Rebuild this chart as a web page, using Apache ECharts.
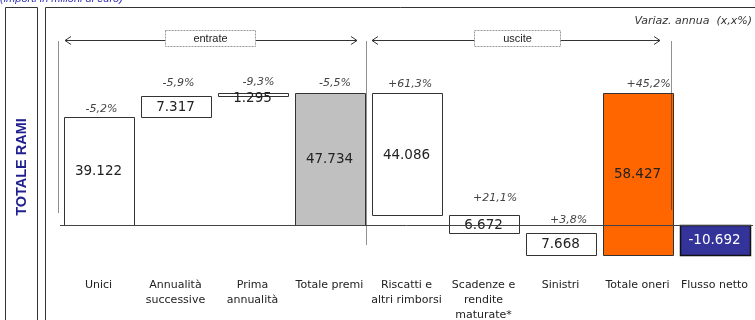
<!DOCTYPE html>
<html>
<head>
<meta charset="utf-8">
<script src="https://cdn.jsdelivr.net/npm/echarts@6/dist/echarts.min.js"></script>
<style>
  html, body { margin: 0; padding: 0; background: #fff; }
  #chart { width: 755px; height: 320px; }
</style>
</head>
<body>
<div id="chart"></div>
<script>
// Flussi del totale rami (milioni di euro)
const categories = [
  'Unici', 'Annualità\nsuccessive', 'Prima\nannualità', 'Totale premi',
  'Riscatti e\naltri rimborsi', 'Scadenze e\nrendite\nmaturate*', 'Sinistri',
  'Totale oneri', 'Flusso netto'
];
// amount of each step and its role in the cascade
const amounts = [39122, 7317, 1295, 47734, 44086, 6672, 7668, 58427, -10692];
const kinds = ['in', 'in', 'in', 'total', 'out', 'out', 'out', 'totalOut', 'net'];
// annual change shown above each step
const changes = ['-5,2%', '-5,9%', '-9,3%', '-5,5%', '+61,3%', '+21,1%', '+3,8%', '+45,2%', ''];

// label placement tweaks (pixels)
const pctLift = [7.5, 13.5, 10, 9.5, 8.5, 17, 13.5, 8.5, 0];
const pctShift = [3, 3, 6, 5.5, 3.5, 11.5, 8, 11, 0];
const valueShift = [1, 1, 4.5, 1, 2, 1, 0, 1, 1];

const fills = { in: '#ffffff', out: '#ffffff', total: '#c0c0c0', totalOut: '#ff6600', net: '#333399' };

function fmt(n) {
  const s = String(Math.abs(n)).replace(/\B(?=(\d{3})+(?!\d))/g, '.');
  return (n < 0 ? '-' : '') + s;
}

// build floating ranges [index, low, high] for the cascade
const ranges = [];
let level = 0, grossIn = 0;
amounts.forEach((a, i) => {
  const k = kinds[i];
  if (k === 'in') { ranges.push([i, level, level + a]); level += a; }
  else if (k === 'total') { grossIn = a; level = a; ranges.push([i, 0, a]); }
  else if (k === 'out') { ranges.push([i, level - a, level]); level -= a; }
  else if (k === 'totalOut') { ranges.push([i, grossIn - a, grossIn]); }
  else { ranges.push([i, Math.min(0, a), Math.max(0, a)]); }
});

const BAR_RATIO = 70 / 77;

const chart = echarts.init(document.getElementById('chart'), null, { renderer: 'canvas' });

const dotted = { stroke: '#222', lineWidth: 1, lineDash: [1, 1] };

chart.setOption({
  animation: false,
  grid: { left: 60, right: 2, top: 58.6, bottom: 50.6, outerBoundsMode: 'none', containLabel: false },
  xAxis: {
    type: 'category',
    data: categories,
    axisLine: { show: false, onZero: false },
    axisTick: { show: false },
    axisLabel: {
      margin: 8,
      interval: 0,
      color: '#222',
      fontFamily: 'DejaVu Sans',
      fontSize: 11,
      lineHeight: 15,
      verticalAlign: 'top'
    },
    splitLine: { show: false }
  },
  yAxis: {
    type: 'value',
    min: -16000,
    max: 60000,
    show: false
  },
  graphic: [
    // outer frames
    { type: 'rect', shape: { x: 5.5, y: 7.5, width: 32, height: 330 }, style: { fill: 'none', stroke: '#333', lineWidth: 1 }, silent: true },
    { type: 'rect', shape: { x: 45.5, y: 7.5, width: 730, height: 330 }, style: { fill: 'none', stroke: '#333', lineWidth: 1 }, silent: true },
    { type: 'text', x: 21.5, y: 167, rotation: Math.PI / 2,
      style: { text: 'TOTALE RAMI', font: 'bold 14.5px "Liberation Sans", Arial', fill: '#1f1f8f', align: 'center', verticalAlign: 'middle' } },
    { type: 'text', x: 0, y: -1,
      style: { text: '(importi in milioni di euro)', font: 'italic 11px "Liberation Sans", Arial', fill: '#3333bb', align: 'left', verticalAlign: 'middle' } },
    { type: 'text', x: 752, y: 21,
      style: { text: 'Variaz. annua  (x,x%)', font: 'italic 11px "DejaVu Sans"', fill: '#333', align: 'right', verticalAlign: 'middle' } },
    // dotted separators
    { type: 'line', shape: { x1: 58.5, y1: 41.5, x2: 58.5, y2: 213 }, style: dotted },
    { type: 'line', shape: { x1: 366.5, y1: 41.5, x2: 366.5, y2: 245 }, style: dotted, z: 10 },
    { type: 'line', shape: { x1: 671.5, y1: 41.5, x2: 671.5, y2: 210 }, style: dotted, z: 10 },
    // entrate arrow
    { type: 'line', shape: { x1: 65, y1: 40.5, x2: 357, y2: 40.5 }, style: { stroke: '#333', lineWidth: 1 } },
    { type: 'polyline', shape: { points: [[71, 36.5], [65, 40.5], [71, 44.5]] }, style: { stroke: '#333', fill: 'none', lineWidth: 1 } },
    { type: 'polyline', shape: { points: [[351, 36.5], [357, 40.5], [351, 44.5]] }, style: { stroke: '#333', fill: 'none', lineWidth: 1 } },
    { type: 'rect', shape: { x: 165.5, y: 30.5, width: 90, height: 16 }, style: { fill: '#fff', stroke: '#999', lineWidth: 1, lineDash: [2, 1] } },
    { type: 'text', x: 210.5, y: 38.5, style: { text: 'entrate', font: '11px "Liberation Sans", Arial', fill: '#222', align: 'center', verticalAlign: 'middle' } },
    // uscite arrow
    { type: 'line', shape: { x1: 372, y1: 40.5, x2: 660, y2: 40.5 }, style: { stroke: '#333', lineWidth: 1 } },
    { type: 'polyline', shape: { points: [[378, 36.5], [372, 40.5], [378, 44.5]] }, style: { stroke: '#333', fill: 'none', lineWidth: 1 } },
    { type: 'polyline', shape: { points: [[654, 36.5], [660, 40.5], [654, 44.5]] }, style: { stroke: '#333', fill: 'none', lineWidth: 1 } },
    { type: 'rect', shape: { x: 474.5, y: 30.5, width: 86, height: 16 }, style: { fill: '#fff', stroke: '#999', lineWidth: 1, lineDash: [2, 1] } },
    { type: 'text', x: 517.5, y: 38.5, style: { text: 'uscite', font: '11px "Liberation Sans", Arial', fill: '#222', align: 'center', verticalAlign: 'middle' } }
  ],
  series: [{
    type: 'custom',
    data: ranges,
    encode: { x: 0, y: [1, 2] },
    z: 2,
    renderItem(params, api) {
      const i = api.value(0);
      const lo = api.value(1), hi = api.value(2);
      const top = api.coord([i, hi]);
      const bot = api.coord([i, lo]);
      const w = api.size([1, 0])[0] * BAR_RATIO;
      const k = kinds[i];
      const x = Math.round(top[0] - w / 2) + 0.5;
      const y = Math.round(top[1]) + 0.5;
      const h = Math.max(1, Math.round(bot[1]) - Math.round(top[1]));
      const children = [{
        type: 'rect',
        shape: { x: x, y: y, width: Math.round(w), height: h },
        style: { fill: fills[k], stroke: k === 'net' ? '#111' : '#333', lineWidth: k === 'net' ? 1.5 : 1 }
      }, {
        type: 'text',
        style: {
          text: fmt(amounts[i]),
          x: top[0], y: (top[1] + bot[1]) / 2 + valueShift[i],
          align: 'center', verticalAlign: 'middle',
          font: '13.5px "DejaVu Sans"',
          fill: k === 'net' ? '#ffffff' : '#222'
        }
      }];
      if (changes[i]) {
        children.push({
          type: 'text',
          style: {
            text: changes[i],
            x: top[0] + pctShift[i], y: top[1] - pctLift[i],
            align: 'center', verticalAlign: 'middle',
            font: 'italic 11px "DejaVu Sans"',
            fill: '#444'
          }
        });
      }
      return { type: 'group', children: children };
    },
    // zero baseline drawn over the bars
    markLine: {
      silent: true,
      symbol: 'none',
      z: 6,
      label: { show: false },
      lineStyle: { color: '#444', width: 1, type: 'solid' },
      data: [{ yAxis: 0 }]
    }
  }]
});
</script>
</body>
</html>
